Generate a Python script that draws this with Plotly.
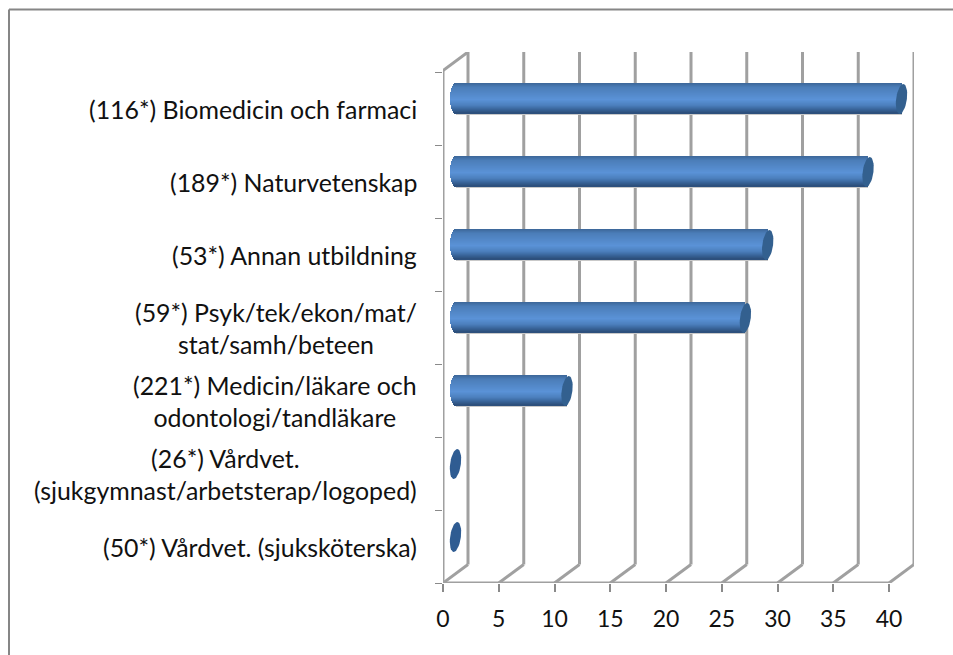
import math
import plotly.graph_objects as go

# Data (bottom to top)
categories = [
    "(50*) Vårdvet. (sjuksköterska)",
    "(26*) Vårdvet.<br>(sjukgymnast/arbetsterap/logoped)",
    "(221*) Medicin/läkare och<br>odontologi/tandläkare",
    "(59*) Psyk/tek/ekon/mat/<br>stat/samh/beteen",
    "(53*) Annan utbildning",
    "(189*) Naturvetenskap",
    "(116*) Biomedicin och farmaci",
]
values = [0, 0, 10, 26, 28, 37, 40]
x_ticks = [0, 5, 10, 15, 20, 25, 30, 35, 40]

# Pixel layout of the plot box
W, H = 953, 655
L, R, T, B = 443, 914, 52, 583
PX_PER_X = 11.15
PX_PER_Y = 73.0
x_max = (R - L) / PX_PER_X
y_min = -0.5
y_max = y_min + (B - T) / PX_PER_Y

# 3D depth, converted to data units
DX = 25 / PX_PER_X
DY = 18.5 / PX_PER_Y
BAR_X0 = 12.5 / PX_PER_X
BAR_DY = 9.5 / PX_PER_Y
BAR_H = 30 / PX_PER_Y
CAP_A = 5.4 / PX_PER_X
CAP_K = 1.8 / PX_PER_X

GRID = "#a0a0a0"
GRID_W = 3

stops = [(0.0, (0x3c, 0x66, 0x98)), (0.14, (0x4b, 0x7d, 0xb8)), (0.55, (0x5a, 0x92, 0xd7)),
         (0.74, (0x4c, 0x80, 0xbe)), (0.9, (0x36, 0x60, 0x94)), (1.0, (0x2b, 0x4d, 0x78))]


def band_color(t):
    for (a, ca), (b, cb) in zip(stops, stops[1:]):
        if t <= b:
            f = (t - a) / (b - a)
            return "rgb(%d,%d,%d)" % tuple(round(p + (q - p) * f) for p, q in zip(ca, cb))
    return "rgb(43,77,120)"


fig = go.Figure()

# soft halo along the cylinders
fig.add_trace(go.Bar(
    y=categories, x=values,
    base=BAR_X0, orientation="h",
    width=BAR_H + 2.4 / PX_PER_Y, offset=BAR_DY - BAR_H / 2 - 1.2 / PX_PER_Y,
    marker=dict(color="#c9c9c9", line=dict(width=0)), hoverinfo="skip", showlegend=False,
))

# cylinder bodies as stacked thin bands, so they get a vertical gradient
N = 30
for i in range(N):
    t = (i + 0.5) / N  # 0 = top
    round_off = CAP_A * math.sqrt(max(0, 1 - (2 * t - 1) ** 2))
    h = BAR_H / N
    fig.add_trace(go.Bar(
        y=categories, x=[v + round_off if v > 0 else 0 for v in values],
        base=BAR_X0 - round_off, orientation="h",
        width=h * 1.15, offset=BAR_DY + BAR_H / 2 - (i + 1) * h,
        marker=dict(color=band_color(t), line=dict(width=0)),
        hoverinfo="skip", showlegend=False,
    ))

# end caps on a numeric overlay axis
for idx, v in enumerate(values):
    cx = BAR_X0 + v
    cy = idx + BAR_DY
    ts = [2 * math.pi * k / 40 for k in range(41)]
    fig.add_trace(go.Scatter(
        x=[cx + CAP_A * math.cos(a) + CAP_K * math.sin(a) for a in ts],
        y=[cy + BAR_H / 2 * math.sin(a) for a in ts],
        mode="lines", fill="toself", fillcolor="#33608f" if v > 0 else "#2f5c92",
        line=dict(width=0), xaxis="x", yaxis="y2", hoverinfo="skip", showlegend=False,
    ))

shapes = []


def line(x0, y0, x1, y1, color=GRID, width=GRID_W):
    shapes.append(dict(type="line", xref="x", yref="y2", x0=x0, y0=y0, x1=x1, y1=y1,
                       line=dict(color=color, width=width), layer="below"))


y_front_top = y_max - DY
for v in x_ticks:
    line(v, y_min, v + DX, y_min + DY)
    line(v + DX, y_min + DY, v + DX, y_max)
line(0, y_min, x_ticks[-1], y_min)
line(0, y_min, 0, y_front_top)
line(0, y_front_top, DX, y_max)

# outer frame: top and left only reach the window edges
fx = lambda p: (p - L) / (R - L)
fy = lambda p: (B - p) / (B - T)
shapes.append(dict(type="line", xref="paper", yref="paper", x0=fx(9), y0=fy(9.5), x1=fx(W + 5), y1=fy(9.5),
                   line=dict(color="#868686", width=2)))
shapes.append(dict(type="line", xref="paper", yref="paper", x0=fx(9), y0=fy(9.5), x1=fx(9), y1=fy(H + 5),
                   line=dict(color="#868686", width=2)))

LABEL_FONT = dict(family="Lato", size=24.9, color="#111111")
TICK_FONT = dict(family="Lato", size=23, color="#111111")

# category labels as annotations: wrapped lines are centred on each other
annotations = [
    dict(text=c, xref="paper", yref="y2", x=fx(417), y=i, xanchor="right", yanchor="middle",
         align="center", showarrow=False, font=LABEL_FONT, borderpad=0, borderwidth=0, yshift=0)
    for i, c in enumerate(categories)
]

fig.update_layout(
    width=W, height=H,
    margin=dict(l=L, r=W - R, t=T, b=H - B, pad=0),
    paper_bgcolor="white", plot_bgcolor="white",
    barmode="overlay", bargap=0, showlegend=False,
    shapes=shapes, annotations=annotations,
    xaxis=dict(range=[0, x_max], tickvals=x_ticks, ticks="outside", ticklen=8, tickwidth=1.5,
               tickcolor="#8a8a8a", showgrid=False, zeroline=False, showline=False,
               tickfont=TICK_FONT, ticklabelstandoff=7),
    yaxis=dict(type="category", categoryorder="array", categoryarray=categories,
               range=[y_min, y_max], tickson="boundaries", ticks="outside", ticklen=7, tickwidth=1,
               tickcolor="#8a8a8a", showgrid=False, zeroline=False, showline=False,
               showticklabels=False),
    yaxis2=dict(overlaying="y", range=[y_min, y_max], visible=False, side="left"),
    font=TICK_FONT,
)

fig.write_html("out.html", config=dict(displayModeBar=False),
               post_script="document.body.style.margin='0';document.documentElement.style.overflow='hidden';")
